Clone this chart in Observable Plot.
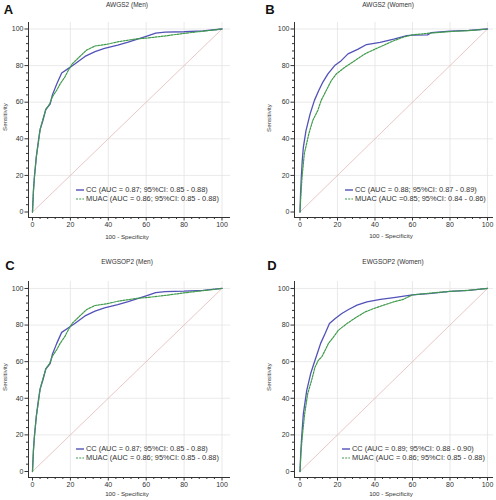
<!DOCTYPE html>
<html><head><meta charset="utf-8">
<script src="https://cdn.jsdelivr.net/npm/d3@7"></script>
<script src="https://cdn.jsdelivr.net/npm/@observablehq/plot@0.6"></script>
<style>
body{margin:0;background:#fff;}
#root{position:relative;width:496px;height:500px;overflow:hidden;font-family:"Liberation Sans",Arial,sans-serif;color:#222;background:#fff;}
.abs{position:absolute;white-space:nowrap;transform:translate(-50%,-50%);line-height:1;}
.letter{font-weight:bold;font-size:13px;color:#111;}
.title{font-size:6.5px;color:#333;}
.xlab{font-size:6.2px;color:#333;}
.ylab{font-size:6.2px;color:#333;transform:translate(-50%,-50%) rotate(-90deg);}
.legend{position:absolute;font-size:7.4px;line-height:8.5px;white-space:nowrap;color:#333;}
.legend .row{height:8.5px;display:flex;align-items:center;}
.legend svg{margin-right:2px;flex:none;}
.panel{position:absolute;}
</style></head><body><div id="root"></div><script>
// ---- data (100 - Specificity, Sensitivity) ----
const fpr_A_CC   = [0, 0.5, 1, 2, 3, 4, 5.5, 7, 9.3, 10.5, 12.8, 15.4, 19, 22.5, 27.7, 33, 38, 45, 50.5, 55, 60, 65, 70, 80, 90, 100];
const sens_A_CC  = [0, 12, 19, 30, 38, 45, 50, 56, 59, 64, 70, 76, 78.5, 81, 85, 87.6, 89.4, 91.2, 92.8, 94.3, 96, 97.7, 98.3, 98.5, 99, 100];
const fpr_A_MUAC = [0, 0.5, 1, 2, 3, 4, 5.3, 7, 9, 10.5, 12.8, 14.6, 17.2, 19, 21, 25, 28.6, 33, 40, 45, 50, 55, 60, 70, 80, 90, 100];
const sens_A_MUAC= [0, 11, 19, 30, 37, 45, 50, 56, 59, 63, 66.6, 70, 74, 77.6, 81, 85, 88.5, 90.7, 91.8, 93, 93.8, 94.6, 95, 96.2, 97.6, 98.8, 100];

const fpr_B_CC   = [0, 0.3, 0.7, 1.2, 1.8, 3.2, 5.4, 7.7, 10, 12.2, 14.9, 18.5, 22, 25.6, 31, 35.5, 42.7, 50, 57, 60, 68, 70, 80, 90, 100];
const sens_B_CC  = [0, 10, 19, 28, 35.5, 44.5, 53.6, 61, 66.4, 71, 75.5, 80, 82.7, 86.4, 89, 91.5, 92.7, 94.5, 96.4, 96.6, 96.8, 98, 98.8, 99.2, 100];
const fpr_B_MUAC = [0, 0.5, 1.1, 2.3, 4.7, 6.8, 9.5, 11.3, 14, 16.7, 19.4, 23.8, 29.2, 34.6, 40, 44.4, 50, 55, 60, 70, 80, 90, 100];
const sens_B_MUAC= [0, 10, 19, 31.8, 42.7, 50, 55.5, 61, 66.4, 71.8, 75.5, 79, 82.7, 86.4, 89, 91, 93.6, 95.5, 96.8, 97.8, 98.6, 99.1, 100];

const fpr_C_CC   = [0, 0.5, 1, 2, 3, 4, 5.5, 7, 9.3, 10.5, 12.8, 15.4, 19, 22.5, 27.7, 33, 38, 45, 50.5, 55, 60, 65, 70, 80, 90, 100];
const sens_C_CC  = [0, 12, 19, 30, 38, 45, 50, 56, 59, 64, 70, 76, 78.5, 81, 85, 87.6, 89.4, 91.2, 92.8, 94.3, 96, 97.7, 98.3, 98.5, 99, 100];
const fpr_C_MUAC = [0, 0.5, 1, 2, 3, 4, 5.3, 7, 9, 10.5, 12.8, 14.6, 17.2, 19, 21, 25, 28.6, 33, 40, 45, 50, 55, 60, 70, 80, 90, 100];
const sens_C_MUAC= [0, 11, 19, 30, 37, 45, 50, 56, 59, 63, 66.6, 70, 74, 77.6, 81, 85, 88.5, 90.7, 91.8, 93, 93.8, 94.6, 95, 96.2, 97.6, 98.8, 100];

const fpr_D_CC   = [0, 0.4, 0.9, 1.8, 3.6, 5.7, 8, 9.8, 11, 13.4, 15.7, 18.8, 22.3, 25.9, 30.4, 35.7, 42.9, 50, 60, 70, 80, 90, 100];
const sens_D_CC  = [0, 10, 18.8, 31.6, 44.3, 53.5, 60.8, 66.2, 70, 75.4, 80.8, 83.6, 86.3, 88.5, 90.9, 92.7, 94, 95, 96.5, 97.3, 98.4, 99, 100];
const fpr_D_MUAC = [0, 0.5, 1.2, 2.5, 4.1, 6.2, 8, 9.8, 11.6, 13.4, 15.2, 17.9, 20.5, 25, 30.4, 34.8, 39.3, 44.6, 50, 55, 60, 70, 80, 90, 100];
const sens_D_MUAC= [0, 10, 18.8, 31.6, 42.5, 49.8, 57, 60.8, 62.6, 66.2, 70, 73.5, 77.2, 80.8, 84.5, 87.2, 89, 90.9, 92.7, 94, 96.5, 97.5, 98.4, 99, 100];

const panelLetters = ["A", "B", "C", "D"];
const panelTitles  = ["AWGS2 (Men)", "AWGS2 (Women)", "EWGSOP2 (Men)", "EWGSOP2 (Women)"];
const legendCC     = ["CC (AUC = 0.87; 95%CI: 0.85 - 0.88)", "CC (AUC = 0.88; 95%CI: 0.87 - 0.89)", "CC (AUC = 0.87; 95%CI: 0.85 - 0.88)", "CC (AUC = 0.89; 95%CI: 0.88 - 0.90)"];
const legendMUAC   = ["MUAC (AUC = 0.86; 95%CI: 0.85 - 0.88)", "MUAC (AUC =0.85; 95%CI: 0.84 - 0.86)", "MUAC (AUC = 0.86; 95%CI: 0.85 - 0.88)", "MUAC (AUC = 0.86; 95%CI: 0.85 - 0.88)"];
const xLabel = "100 - Specificity";
const yLabel = "Sensitivity";
const majorTicks = [0, 20, 40, 60, 80, 100];
const gridTicks  = [20, 40, 60, 80, 100];
const minorTicks = [4, 8, 12, 16, 24, 28, 32, 36, 44, 48, 52, 56, 64, 68, 72, 76, 84, 88, 92, 96];

// ---- styles / layout ----
const CC_COLOR = "#5252b8";
const MUAC_COLOR = "#3f9a4a";
const font = "'Liberation Sans', Arial, sans-serif";

const series = [
  [fpr_A_CC, sens_A_CC, fpr_A_MUAC, sens_A_MUAC],
  [fpr_B_CC, sens_B_CC, fpr_B_MUAC, sens_B_MUAC],
  [fpr_C_CC, sens_C_CC, fpr_C_MUAC, sens_C_MUAC],
  [fpr_D_CC, sens_D_CC, fpr_D_MUAC, sens_D_MUAC]
];

const layouts = [
  {left: 0,   top: 0,   mL: 28, mR: 18, mT: 22, mB: 33, xd: [-2.11, 104.49], yd: [-3.0, 103.55],
   letter: [8.5, 9], title: [127, 5], xlab: [127, 237], ylab: [5, 117], legend: [76, 186]},
  {left: 248, top: 0,   mL: 46, mR: 3,  mT: 22, mB: 33, xd: [-2.93, 103.2], yd: [-3.0, 103.55],
   letter: [270, 8.5], title: [388, 5], xlab: [391, 236], ylab: [269, 118], legend: [345, 186]},
  {left: 0,   top: 250, mL: 28, mR: 18, mT: 31, mB: 23, xd: [-2.11, 104.49], yd: [-3.28, 103.8],
   letter: [10, 265], title: [127, 262], xlab: [127, 494], ylab: [5, 377], legend: [76, 445]},
  {left: 248, top: 250, mL: 46, mR: 3,  mT: 31, mB: 23, xd: [-2.93, 103.2], yd: [-3.28, 103.8],
   letter: [272, 265], title: [393, 262], xlab: [391, 494], ylab: [269, 377], legend: [342, 445]}
];

const root = document.getElementById("root");
const diag = d3.extent(majorTicks).map(v => ({x: v, y: v}));

function pts(xs, ys) { return xs.map((x, i) => ({x, y: ys[i]})); }

function div(cls, text, x, y) {
  const d = document.createElement("div");
  d.className = cls;
  d.textContent = text;
  d.style.left = x + "px";
  d.style.top = y + "px";
  root.appendChild(d);
}

layouts.forEach((L, i) => {
  const [xc, yc, xm, ym] = series[i];
  const chart = Plot.plot({
    width: 248, height: 250,
    marginLeft: L.mL, marginRight: L.mR, marginTop: L.mT, marginBottom: L.mB,
    x: {domain: L.xd, label: null},
    y: {domain: L.yd, label: null},
    style: {fontFamily: font, fontSize: "7px", color: "#333", background: "transparent", overflow: "visible"},
    marks: [
      Plot.ruleX(gridTicks, {stroke: "#e4e4e4", strokeWidth: 0.8}),
      Plot.ruleY(gridTicks, {stroke: "#e4e4e4", strokeWidth: 0.8}),
      Plot.line(diag, {x: "x", y: "y", stroke: "#e3b9b9", strokeWidth: 0.8}),
      Plot.line(pts(xc, yc), {x: "x", y: "y", stroke: CC_COLOR, strokeWidth: 1.3}),
      Plot.line(pts(xm, ym), {x: "x", y: "y", stroke: MUAC_COLOR, strokeWidth: 1.2, strokeDasharray: "2,1.2"}),
      Plot.ruleX([L.xd[0]], {stroke: "#333", strokeWidth: 1}),
      Plot.ruleY([L.yd[0]], {stroke: "#333", strokeWidth: 1}),
      Plot.axisX(majorTicks, {tickSize: 3.5, tickPadding: 1.5, fontSize: 7, label: null, stroke: "#333"}),
      Plot.axisX(minorTicks, {tickSize: 2, tickFormat: () => "", label: null, stroke: "#333"}),
      Plot.axisY(majorTicks, {tickSize: 3.5, tickPadding: 1.5, fontSize: 7, label: null, stroke: "#333"}),
      Plot.axisY(minorTicks, {tickSize: 2, tickFormat: () => "", label: null, stroke: "#333"})
    ]
  });
  chart.classList.add("panel");
  chart.style.left = L.left + "px";
  chart.style.top = L.top + "px";
  root.appendChild(chart);

  div("abs letter", panelLetters[i], L.letter[0], L.letter[1]);
  div("abs title", panelTitles[i], L.title[0], L.title[1]);
  div("abs xlab", xLabel, L.xlab[0], L.xlab[1]);
  div("abs ylab", yLabel, L.ylab[0], L.ylab[1]);

  const lg = document.createElement("div");
  lg.className = "legend";
  lg.style.left = L.legend[0] + "px";
  lg.style.top = L.legend[1] + "px";
  [[legendCC[i], CC_COLOR, null, 1.4], [legendMUAC[i], MUAC_COLOR, "2,1.2", 1.2]].forEach(([t, c, dash, w]) => {
    const row = document.createElement("div");
    row.className = "row";
    row.innerHTML = `<svg width="8" height="6"><line x1="0" x2="8" y1="3" y2="3" stroke="${c}" stroke-width="${w}" ${dash ? `stroke-dasharray="${dash}"` : ""}/></svg><span>${t}</span>`;
    lg.appendChild(row);
  });
  root.appendChild(lg);
});
</script></body></html>
